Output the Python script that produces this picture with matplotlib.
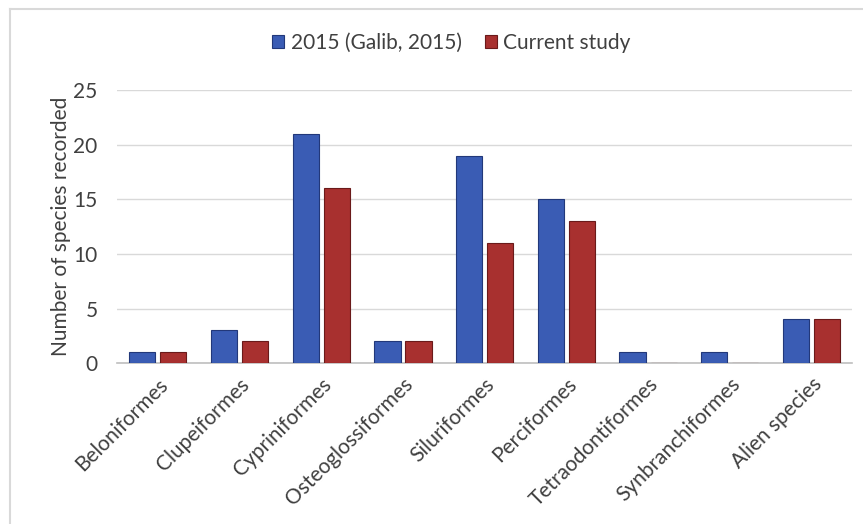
import numpy as np
import matplotlib.pyplot as plt
from matplotlib.lines import Line2D

plt.rcParams['font.family'] = ['Lato', 'DejaVu Sans']

# ── Data ─────────────────────────────────────────────
orders = ['Beloniformes', 'Clupeiformes', 'Cypriniformes', 'Osteoglossiformes',
          'Siluriformes', 'Perciformes', 'Tetraodontiformes', 'Synbranchiformes',
          'Alien species']
galib_2015 = [1, 3, 21, 2, 19, 15, 1, 1, 4]
current = [1, 2, 16, 2, 11, 13, 0, 0, 4]

BLUE, BLUE_EDGE = '#3a5cb4', '#22387a'
RED, RED_EDGE = '#a8302f', '#6a1a1a'
TXT = '#404040'
FS = 15

fig = plt.figure(figsize=(8.63, 5.24), dpi=100)
ax = fig.add_axes([0.1356, 0.307, 0.852, 0.521])

x = np.arange(len(orders))
w = 0.32
gap = 0.03
ax.bar(x - w/2 - gap, galib_2015, width=w, color=BLUE, edgecolor=BLUE_EDGE,
       linewidth=0.8, zorder=3, label='2015 (Galib, 2015)')
ax.bar(x + w/2 + gap, current, width=w, color=RED, edgecolor=RED_EDGE,
       linewidth=0.8, zorder=3, label='Current study')

ax.set_xlim(-0.5, len(orders) - 0.5)
ax.set_ylim(0, 25)
ax.set_yticks(range(0, 26, 5))
ax.yaxis.grid(True, color='#d9d9d9', linewidth=1)
ax.set_axisbelow(True)
for s in ['top', 'right', 'left']:
    ax.spines[s].set_visible(False)
ax.spines['bottom'].set_color('#bfbfbf')
ax.spines['bottom'].set_linewidth(1.2)
ax.tick_params(axis='y', length=0, pad=14, labelsize=FS, labelcolor=TXT)
ax.tick_params(axis='x', length=0, pad=8, labelsize=FS, labelcolor=TXT)
ax.set_xticks(x)
ax.set_xticklabels(orders, rotation=45, ha='right', rotation_mode='anchor')
ax.set_ylabel('Number of species recorded', fontsize=FS, color=TXT, labelpad=2)

fig.legend(*ax.get_legend_handles_labels(), loc='center',
           bbox_to_anchor=(0.523, 0.918), ncol=2, frameon=False,
           fontsize=FS, handlelength=0.6, handleheight=0.6, columnspacing=1.1,
           handletextpad=0.3, labelcolor=TXT)

# chart frame (left and top edges visible)
fig.add_artist(Line2D([0.012, 0.012], [0, 0.983], transform=fig.transFigure,
                      color='#d9d9d9', linewidth=1.5))
fig.add_artist(Line2D([0.012, 1.0], [0.983, 0.983], transform=fig.transFigure,
                      color='#d9d9d9', linewidth=1.5))

fig.savefig('out.png', dpi=100)
